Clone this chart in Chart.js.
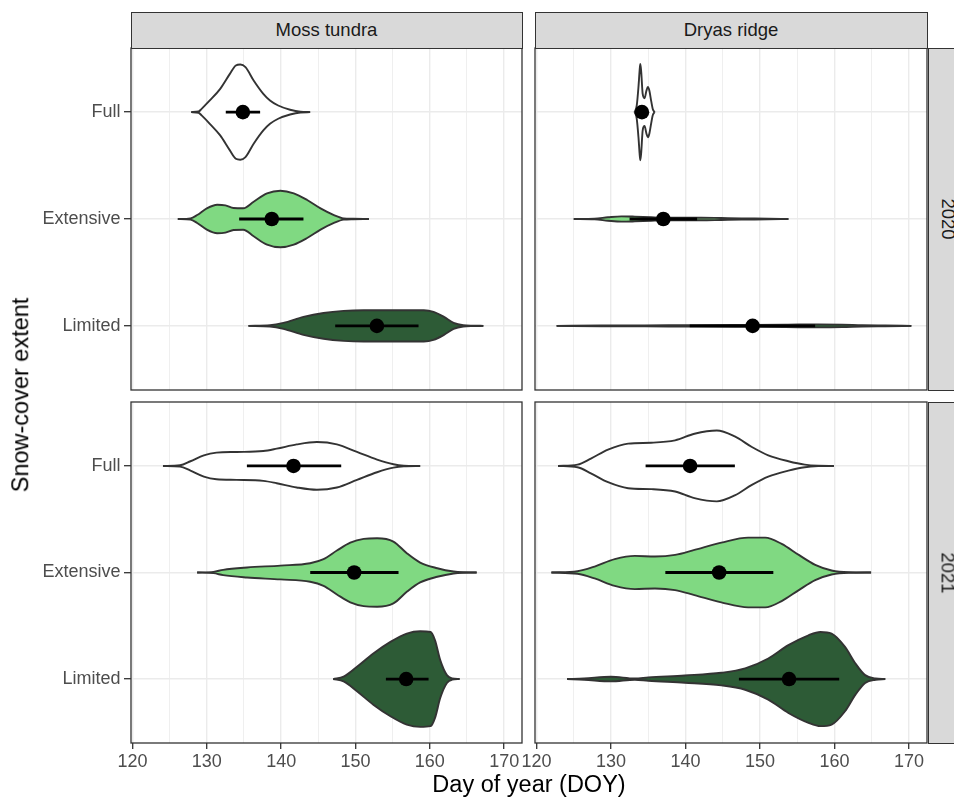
<!DOCTYPE html>
<html lang="en">
<head>
  <meta charset="UTF-8">
  <title>Snow-cover extent</title>
  <script src="https://cdn.jsdelivr.net/npm/chart.js"></script>
  <style>
    html, body {
      margin: 0;
      padding: 0;
      background: #fff;
      overflow: hidden;
    }
    #fig {
      position: relative;
      width: 954px;
      height: 798px;
      overflow: hidden;
      font-family: 'Liberation Sans', Arial, sans-serif;
    }
    .panel {
      position: absolute;
    }
    .strip {
      position: absolute;
      box-sizing: border-box;
      background: #D9D9D9;
      border: 1.3px solid #333;
      color: #1A1A1A;
      font-size: 18.5px;
      display: flex;
      align-items: center;
      justify-content: center;
      white-space: nowrap;
    }
    .strip-y span {
      display: inline-block;
      transform: rotate(90deg);
    }
    .title {
      position: absolute;
      color: #000;
      font-size: 23.5px;
      line-height: 1;
      white-space: nowrap;
      transform: translate(-50%, -50%);
    }
  </style>
</head>
<body>

<div id="fig">
  <div class="panel" id="p0"><canvas id="c0"></canvas></div>
  <div class="panel" id="p1"><canvas id="c1"></canvas></div>
  <div class="panel" id="p2"><canvas id="c2"></canvas></div>
  <div class="panel" id="p3"><canvas id="c3"></canvas></div>

  <!-- facet strips -->
  <div class="strip" id="s-site0" style="left:130.5px; top:12px; width:392px; height:36.5px;"></div>
  <div class="strip" id="s-site1" style="left:534.5px; top:12px; width:393px; height:36.5px;"></div>
  <div class="strip strip-y" id="s-year0" style="left:927.5px; top:47.5px; width:40px; height:343px;"><span></span></div>
  <div class="strip strip-y" id="s-year1" style="left:927.5px; top:401.5px; width:40px; height:342px;"><span></span></div>

  <div class="title" id="xtitle" style="left:529px; top:785px;">Day of year (DOY)</div>
  <div class="title" id="ytitle" style="left:21px; top:395px; transform: translate(-50%, -50%) rotate(-90deg);">Snow-cover extent</div>
</div>

<script>
  // categories and facets
  const categories = ["Full", "Extensive", "Limited"];
  const sites = ["Moss tundra", "Dryas ridge"];
  const years = ["2020", "2021"];
  const xTicks = [120, 130, 140, 150, 160, 170];
  const xGrid = [120, 125, 130, 135, 140, 145, 150, 155, 160, 165, 170];
  const fillColors = ["#FFFFFF", "#80D982", "#2D5B36"];

  // violin outlines: DOY positions and half-widths (in category units)
  const moss2020FullDoy  = [127.9, 128.9, 129.3, 130.4, 131.8, 133.1, 133.9, 134.5, 135.2, 136.3, 137.6, 138.5, 139.6, 141.2, 142.6, 143.9];
  const moss2020FullHalf = [0, .006, .031, .109, .218, .358, .436, .445, .421, .296, .171, .109, .062, .022, .003, 0];
  const moss2020ExtDoy   = [126.1, 127.8, 128.7, 130.0, 131.4, 132.5, 133.6, 134.9, 136.3, 138.1, 139.9, 141.7, 143.5, 145.3, 147.1, 148.4, 149.7, 151.8];
  const moss2020ExtHalf  = [0, .006, .037, .100, .134, .128, .103, .100, .162, .240, .265, .240, .178, .100, .037, .006, .002, 0];
  const moss2020LimDoy   = [135.6, 138.5, 140.3, 143.0, 145.7, 148.4, 151.1, 155.6, 159.2, 160.5, 161.9, 163.2, 164.5, 165.9, 167.2];
  const moss2020LimHalf  = [0, .006, .028, .084, .121, .140, .146, .146, .146, .131, .084, .028, .006, .002, 0];

  const dryas2020FullDoy  = [133.16, 133.45, 133.7, 133.85, 133.93, 134.05, 134.25, 134.5, 134.75, 134.95, 135.15, 135.4, 135.6, 135.85];
  const dryas2020FullHalf = [0, .06, .25, .40, .45, .38, .17, .13, .20, .236, .20, .10, .03, 0];
  const dryas2020ExtDoy   = [125.0, 127.8, 129.6, 131.4, 133.2, 135.4, 137.7, 139.9, 142.1, 144.8, 147.5, 151.1, 153.8];
  const dryas2020ExtHalf  = [0, .003, .016, .025, .022, .016, .012, .012, .012, .009, .006, .003, 0];
  const dryas2020LimDoy   = [122.7, 128.7, 137.7, 146.6, 153.4, 157.8, 161.0, 163.7, 166.8, 170.3];
  const dryas2020LimHalf  = [0, .003, .006, .009, .011, .014, .012, .006, .003, 0];

  const moss2021FullDoy  = [124.1, 126.4, 127.8, 129.6, 131.3, 134.0, 137.6, 139.4, 142.1, 144.8, 147.5, 150.2, 152.9, 155.1, 156.5, 158.7];
  const moss2021FullHalf = [0, .006, .044, .100, .125, .131, .140, .162, .202, .224, .202, .131, .059, .016, .003, 0];
  const moss2021ExtDoy   = [128.7, 130.9, 132.2, 135.4, 139.9, 143.9, 145.7, 147.5, 149.3, 151.1, 152.9, 155.1, 156.9, 158.7, 161.0, 163.2, 164.5, 166.3];
  const moss2021ExtHalf  = [0, .006, .025, .047, .065, .087, .125, .206, .280, .315, .321, .290, .181, .093, .040, .009, .002, 0];
  const moss2021LimDoy   = [147.0, 148.4, 150.2, 152.4, 154.7, 156.9, 158.7, 160.1, 160.7, 161.4, 162.3, 163.0, 164.0];
  const moss2021LimHalf  = [0, .022, .115, .240, .349, .427, .449, .442, .364, .178, .037, .006, 0];

  const dryas2021FullDoy  = [122.9, 125.5, 127.3, 129.6, 132.3, 135.4, 138.6, 141.2, 144.2, 146.6, 148.9, 151.1, 153.8, 156.0, 157.8, 159.9];
  const dryas2021FullHalf = [0, .012, .069, .153, .209, .218, .240, .302, .333, .277, .178, .100, .044, .012, .002, 0];
  const dryas2021ExtDoy   = [122.0, 125.5, 127.8, 130.5, 133.2, 135.9, 138.6, 141.2, 144.8, 148.4, 150.7, 152.9, 155.2, 157.4, 159.6, 161.9, 164.9];
  const dryas2021ExtHalf  = [0, .012, .056, .125, .156, .150, .165, .212, .280, .327, .327, .268, .165, .072, .019, .002, 0];
  const dryas2021LimDoy   = [124.1, 126.4, 130.0, 133.2, 135.0, 139.9, 144.8, 148.0, 151.1, 153.8, 156.5, 158.1, 159.6, 161.4, 162.8, 164.1, 165.5, 166.8];
  const dryas2021LimHalf  = [0, .006, .022, .006, .016, .034, .059, .100, .193, .318, .411, .442, .427, .302, .146, .037, .006, 0];

  // means with lower / upper error bar ends (Full, Extensive, Limited)
  const moss2020Mean  = [134.85, 138.74, 152.88];
  const moss2020Low   = [132.55, 134.35, 147.27];
  const moss2020High  = [137.17, 143.0, 158.48];
  const dryas2020Mean = [134.15, 137.02, 149.0];
  const dryas2020Low  = [133.7, 132.49, 140.56];
  const dryas2020High = [134.6, 141.55, 157.39];
  const moss2021Mean  = [141.66, 149.82, 156.82];
  const moss2021Low   = [135.39, 143.91, 154.09];
  const moss2021High  = [148.08, 155.79, 159.83];
  const dryas2021Mean = [140.61, 144.51, 153.89];
  const dryas2021Low  = [134.64, 137.29, 147.16];
  const dryas2021High = [146.62, 151.78, 160.62];

  // panel layout (plot area in page pixels)
  const panels = [
    { box: { left: 131, top: 48, right: 522, bottom: 390 }, showX: false, showY: true,
      violins: [[moss2020FullDoy, moss2020FullHalf], [moss2020ExtDoy, moss2020ExtHalf], [moss2020LimDoy, moss2020LimHalf]],
      mean: moss2020Mean, low: moss2020Low, high: moss2020High },
    { box: { left: 535, top: 48, right: 927, bottom: 390 }, showX: false, showY: false,
      violins: [[dryas2020FullDoy, dryas2020FullHalf], [dryas2020ExtDoy, dryas2020ExtHalf], [dryas2020LimDoy, dryas2020LimHalf]],
      mean: dryas2020Mean, low: dryas2020Low, high: dryas2020High },
    { box: { left: 131, top: 402, right: 522, bottom: 743 }, showX: true, showY: true,
      violins: [[moss2021FullDoy, moss2021FullHalf], [moss2021ExtDoy, moss2021ExtHalf], [moss2021LimDoy, moss2021LimHalf]],
      mean: moss2021Mean, low: moss2021Low, high: moss2021High },
    { box: { left: 535, top: 402, right: 927, bottom: 743 }, showX: true, showY: false,
      violins: [[dryas2021FullDoy, dryas2021FullHalf], [dryas2021ExtDoy, dryas2021ExtHalf], [dryas2021LimDoy, dryas2021LimHalf]],
      mean: dryas2021Mean, low: dryas2021Low, high: dryas2021High }
  ];

  document.getElementById("s-site0").textContent = sites[0];
  document.getElementById("s-site1").textContent = sites[1];
  document.querySelector("#s-year0 span").textContent = years[0];
  document.querySelector("#s-year1 span").textContent = years[1];

  Chart.defaults.font.family = "'Liberation Sans', Arial, sans-serif";

  const panelBorder = {
    id: 'panelBorder',
    afterDraw(chart) {
      const { ctx, chartArea: a } = chart;
      ctx.save();
      ctx.strokeStyle = '#333333';
      ctx.lineWidth = 1.3;
      ctx.strokeRect(a.left, a.top, a.right - a.left, a.bottom - a.top);
      ctx.restore();
    }
  };

  function violin(doy, half, cat, color) {
    const common = {
      showLine: true,
      pointRadius: 0,
      borderColor: '#333333',
      borderWidth: 1.9,
      cubicInterpolationMode: 'monotone',
      order: 3
    };
    return [
      { ...common, data: doy.map((x, i) => ({ x, y: cat - half[i] })), fill: '+1', backgroundColor: color },
      { ...common, data: doy.map((x, i) => ({ x, y: cat + half[i] })), fill: false }
    ];
  }

  const xAxisH = 42;

  panels.forEach((p, k) => {
    const b = p.box;
    const padL = p.showY ? 0 : 20;
    const divLeft = p.showY ? 0 : b.left - 20;
    const yW = p.showY ? b.left : 0;
    const div = document.getElementById(`p${k}`);
    div.style.left = divLeft + 'px';
    div.style.top = (b.top - 2) + 'px';
    div.style.width = (b.right + 2 - divLeft) + 'px';
    div.style.height = (b.bottom - b.top + 4 + (p.showX ? xAxisH : 0)) + 'px';

    const datasets = [];
    // means on top, then error bars, then violins
    datasets.push({
      data: p.mean.map((x, i) => ({ x, y: i + 1 })),
      pointRadius: 7.3,
      pointBackgroundColor: '#000',
      pointBorderWidth: 0,
      showLine: false,
      order: 1
    });
    categories.forEach((c, i) => {
      datasets.push({
        data: [{ x: p.low[i], y: i + 1 }, { x: p.high[i], y: i + 1 }],
        showLine: true,
        pointRadius: 0,
        borderColor: '#000',
        borderWidth: 2.8,
        fill: false,
        order: 2
      });
    });
    p.violins.forEach((v, i) => {
      datasets.push(...violin(v[0], v[1], i + 1, fillColors[i]));
    });

    const ctx = document.getElementById(`c${k}`).getContext('2d');
    new Chart(ctx, {
      type: 'scatter',
      data: { datasets },
      options: {
        responsive: true,
        maintainAspectRatio: false,
        animation: false,
        events: [],
        layout: { autoPadding: false, padding: { left: padL, right: 2, top: 2, bottom: 2 } },
        plugins: {
          legend: { display: false },
          tooltip: { enabled: false },
          filler: { drawTime: 'beforeDatasetsDraw' }
        },
        scales: {
          x: {
            type: 'linear',
            min: 119.8,
            max: 172.4,
            afterBuildTicks: s => { s.ticks = xGrid.map(v => ({ value: v })); },
            afterFit: s => { s.height = p.showX ? xAxisH : 0; s.paddingLeft = 0; s.paddingRight = 0; },
            border: { display: false },
            grid: {
              color: '#EBEBEB',
              lineWidth: c => (c.tick && xTicks.includes(c.tick.value)) ? 1.4 : 0.8,
              drawTicks: p.showX,
              tickLength: 6,
              tickWidth: 1.3,
              tickColor: c => (c.tick && xTicks.includes(c.tick.value)) ? '#333333' : 'rgba(0,0,0,0)'
            },
            ticks: {
              display: p.showX,
              autoSkip: false,
              maxRotation: 0,
              padding: 2,
              color: '#4D4D4D',
              font: { size: 18 },
              callback: v => xTicks.includes(v) ? String(v) : ''
            }
          },
          y: {
            type: 'linear',
            reverse: true,
            min: 0.4,
            max: 3.6,
            afterBuildTicks: s => { s.ticks = categories.map((c, i) => ({ value: i + 1 })); },
            afterFit: s => { s.width = yW; s.paddingTop = 0; s.paddingBottom = 0; },
            border: { display: false },
            grid: {
              color: '#EBEBEB',
              lineWidth: 1.4,
              drawTicks: p.showY,
              tickLength: 7,
              tickWidth: 1.3,
              tickColor: '#333333'
            },
            ticks: {
              display: p.showY,
              padding: 3.5,
              color: '#4D4D4D',
              font: { size: 18 },
              callback: v => categories[v - 1]
            }
          }
        }
      },
      plugins: [panelBorder]
    });
  });
</script>

</body>
</html>
